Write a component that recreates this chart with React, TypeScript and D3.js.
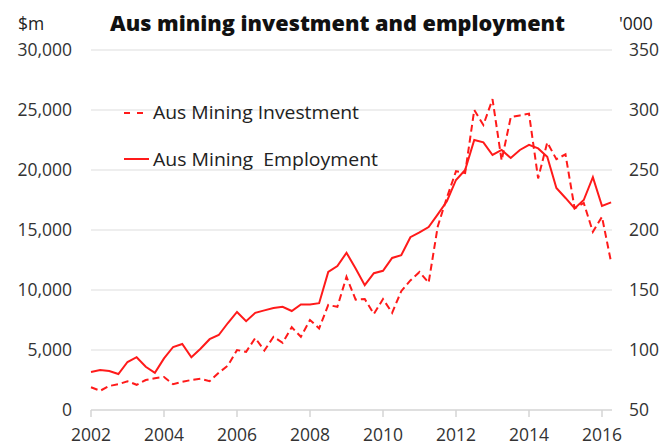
import React from "react";
import * as d3 from "d3";

const startYear = 2002;
// Quarterly values, 2002 Q1 onward
const investment = [
  1900, 1600, 2000, 2150, 2400, 2100, 2500, 2650, 2750, 2150, 2350, 2500,
  2600, 2400, 3100, 3700, 5000, 4850, 6000, 4950, 6100, 5600, 6900, 6100,
  7500, 6800, 8750, 8600, 11100, 9200, 9250, 8000, 9250, 8100, 9900, 10800,
  11500, 10600, 15300, 17700, 19900, 19750, 25000, 23750, 25900, 20800, 24400, 24550,
  24700, 19300, 22300, 20900, 21300, 16800, 17250, 14850, 16100, 12300,
];
const employment = [
  81.7, 83.3, 82.5, 80, 90, 94, 86, 81, 93, 102.5, 105, 94,
  101, 109, 112.5, 122.5, 131.7, 124, 131, 133, 135, 136, 132.5, 138,
  138, 139, 165, 170, 181, 168, 154, 164, 166, 176.7, 179, 194,
  198, 202.5, 213, 224, 241.7, 250, 275, 273, 262.5, 266.7, 260, 266.7,
  271, 268, 261, 235, 226.7, 218, 225, 244, 220, 223,
];
const leftTicks = [0, 5000, 10000, 15000, 20000, 25000, 30000];
const rightTicks = [50, 100, 150, 200, 250, 300, 350];
const yearTicks = [2002, 2004, 2006, 2008, 2010, 2012, 2014, 2016];
const title = "Aus mining investment and employment";
const legendLabels = ["Aus Mining Investment", "Aus Mining  Employment"];

const W = 664;
const H = 445;
const RED = "#ff1a1a";
const FONT = "'Open Sans', sans-serif";

export default function App() {
  const x = d3.scaleLinear().domain([2002, 2016]).range([91, 602]);
  const yL = d3.scaleLinear().domain([0, 30000]).range([410, 50]);
  const yR = d3.scaleLinear().domain([50, 350]).range([410, 50]);
  const gridX0 = 91;
  const gridX1 = 612;

  const invLine = d3
    .line<number>()
    .x((_, i) => x(startYear + i / 4))
    .y((d) => yL(d));
  const empLine = d3
    .line<number>()
    .x((_, i) => x(startYear + i / 4))
    .y((d) => yR(d));

  const fmt = d3.format(",");
  const tickFs = 17.5;

  return (
    <svg
      width={W}
      height={H}
      style={{ position: "absolute", left: 0, top: 0, background: "#fff" }}
    >
      <rect x={0} y={0} width={W} height={H} fill="#fff" />
      {/* grid */}
      {leftTicks.slice(1).map((t) => (
        <line
          key={"g" + t}
          x1={gridX0}
          x2={gridX1}
          y1={yL(t)}
          y2={yL(t)}
          stroke="#e8e8e8"
          strokeWidth={1.5}
        />
      ))}
      {/* x axis */}
      <line x1={gridX0} x2={gridX1} y1={410} y2={410} stroke="#d4d4d4" strokeWidth={1.5} />
      {yearTicks.map((t) => (
        <g key={"x" + t}>
          <line x1={x(t)} x2={x(t)} y1={410} y2={417} stroke="#d4d4d4" strokeWidth={1.5} />
          <text
            x={x(t)}
            y={441}
            textAnchor="middle"
            fontFamily={FONT}
            fontSize={tickFs}
            fill="#333"
          >
            {t}
          </text>
        </g>
      ))}
      {/* left ticks */}
      {leftTicks.map((t) => (
        <text
          key={"l" + t}
          x={72}
          y={yL(t) + 6}
          textAnchor="end"
          fontFamily={FONT}
          fontSize={tickFs}
          fill="#333"
        >
          {fmt(t)}
        </text>
      ))}
      {/* right ticks */}
      {rightTicks.map((t) => (
        <text
          key={"r" + t}
          x={629}
          y={yR(t) + 6}
          textAnchor="start"
          fontFamily={FONT}
          fontSize={tickFs}
          fill="#333"
        >
          {t}
        </text>
      ))}
      {/* units + title */}
      <text x={18} y={30} fontFamily={FONT} fontSize={tickFs} fill="#222">
        $m
      </text>
      <text x={619} y={30} fontFamily={FONT} fontSize={tickFs} fill="#222">
        '000
      </text>
      <text
        x={110}
        y={31}
        fontFamily={FONT}
        fontWeight={800}
        fontSize={21}
        fill="#111"
        textLength={455}
        lengthAdjust="spacingAndGlyphs"
      >
        {title}
      </text>
      {/* lines */}
      <path
        d={invLine(investment) || ""}
        fill="none"
        stroke={RED}
        strokeWidth={2}
        strokeDasharray="7,4"
      />
      <path d={empLine(employment) || ""} fill="none" stroke={RED} strokeWidth={2} />
      {/* legend */}
      <line x1={124} x2={144} y1={113} y2={113} stroke={RED} strokeWidth={2} strokeDasharray="6,7" />
      <text x={153} y={119} fontFamily={FONT} fontSize={19} fill="#222" textLength={206} lengthAdjust="spacingAndGlyphs">
        {legendLabels[0]}
      </text>
      <line x1={124} x2={149} y1={159} y2={159} stroke={RED} strokeWidth={2} />
      <text x={153} y={166} fontFamily={FONT} fontSize={19} fill="#222" style={{ whiteSpace: "pre" }} textLength={225} lengthAdjust="spacingAndGlyphs">
        {legendLabels[1]}
      </text>
    </svg>
  );
}
